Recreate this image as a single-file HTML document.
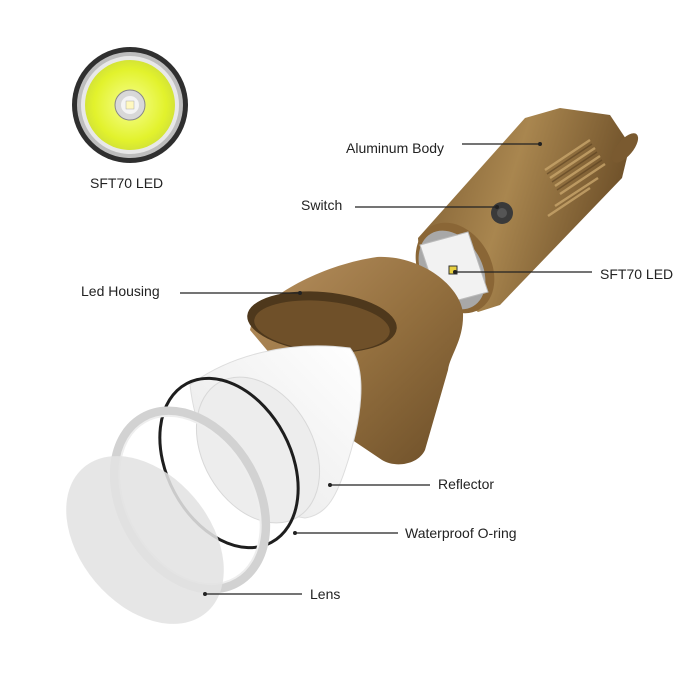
<!DOCTYPE html>
<html><head><meta charset="utf-8"><style>
html,body{margin:0;padding:0;background:#fff}
svg{display:block}
text{font-family:"Liberation Sans",sans-serif;font-size:14px;fill:#222}
</style></head><body>
<svg width="700" height="700" viewBox="0 0 700 700" xmlns="http://www.w3.org/2000/svg">
<defs>
<linearGradient id="br" x1="0" y1="0" x2="1" y2="1">
<stop offset="0" stop-color="#b89160"/><stop offset="0.5" stop-color="#94703f"/><stop offset="1" stop-color="#6c4e28"/>
</linearGradient>
<linearGradient id="br2" x1="0" y1="0" x2="1" y2="0.3">
<stop offset="0" stop-color="#7a5a30"/><stop offset="0.5" stop-color="#a9864f"/><stop offset="1" stop-color="#6e5029"/>
</linearGradient>
<radialGradient id="led" cx="0.5" cy="0.5" r="0.5">
<stop offset="0" stop-color="#f6ff90"/><stop offset="0.8" stop-color="#e2f22c"/><stop offset="1" stop-color="#d4e436"/>
</radialGradient>
<linearGradient id="refl" x1="1" y1="0" x2="0" y2="1">
<stop offset="0" stop-color="#ffffff"/><stop offset="1" stop-color="#e6e6e6"/>
</linearGradient>
</defs>

<!-- top-left LED -->
<circle cx="130" cy="105" r="58" fill="#2f2f2f"/>
<circle cx="130" cy="105" r="53" fill="#bdbdbd"/>
<circle cx="130" cy="105" r="49" fill="#e8e8e8"/>
<circle cx="130" cy="105" r="45" fill="url(#led)"/>
<circle cx="130" cy="105" r="15" fill="#d8d8d8" stroke="#888"/>
<circle cx="130" cy="105" r="9" fill="#f4f4f4"/>
<rect x="126" y="101" width="8" height="8" fill="#fff8c0" stroke="#aaa" stroke-width="0.5"/>
<text x="90" y="188">SFT70 LED</text>

<!-- body tube -->
<polygon points="525,118 560,108 610,115 630,145 622,178 500,305 478,312 420,272 418,238" fill="url(#br2)"/>
<ellipse cx="625" cy="148" rx="8" ry="18" transform="rotate(40 625 148)" fill="#7a5a30"/>
<g stroke="#c9a66c" stroke-width="2.5" opacity="0.8">
<line x1="545" y1="170" x2="590" y2="140"/><line x1="550" y1="178" x2="595" y2="148"/>
<line x1="555" y1="186" x2="600" y2="156"/><line x1="560" y1="194" x2="605" y2="164"/>
<line x1="555" y1="206" x2="598" y2="178"/><line x1="548" y1="216" x2="590" y2="188"/>
</g>
<g stroke="#5a4020" stroke-width="1.5" opacity="0.6">
<line x1="547" y1="174" x2="592" y2="144"/><line x1="552" y1="182" x2="597" y2="152"/>
<line x1="557" y1="190" x2="602" y2="160"/>
</g>
<!-- head front -->
<ellipse cx="455" cy="268" rx="36" ry="48" transform="rotate(-30 455 268)" fill="#8a6636"/>
<ellipse cx="452" cy="270" rx="30" ry="42" transform="rotate(-30 452 270)" fill="#a8a8a8"/>
<polygon points="420,245 468,232 488,292 440,305" fill="#f2f2f2" stroke="#bbb"/>
<rect x="449" y="266" width="8" height="8" fill="#e8d040" stroke="#333" stroke-width="1"/>
<circle cx="502" cy="213" r="11" fill="#3a3a3a"/>
<circle cx="502" cy="213" r="5" fill="#555"/>

<!-- led housing -->
<path d="M250,330 C255,300 320,265 377,257 C420,255 460,285 463,313 C464,340 450,355 448,370 L425,450 C418,465 395,468 382,460 L330,425 Z" fill="url(#br)"/>
<ellipse cx="322" cy="322" rx="75" ry="30" transform="rotate(5 322 322)" fill="#4e381c"/>
<ellipse cx="322" cy="326" rx="68" ry="25" transform="rotate(5 322 326)" fill="#6f5029"/>

<!-- reflector -->
<path d="M190,385 C230,355 290,340 350,348 C368,370 362,420 345,470 C335,500 325,515 305,518 C250,510 200,470 190,385 Z" fill="url(#refl)" stroke="#ddd"/>
<ellipse cx="258" cy="450" rx="55" ry="78" transform="rotate(-30 258 450)" fill="#ededed" stroke="#d8d8d8"/>

<!-- o-ring -->
<ellipse cx="229" cy="463" rx="62" ry="90" transform="rotate(-28 229 463)" fill="none" stroke="#1e1e1e" stroke-width="3"/>

<!-- lens ring -->
<ellipse cx="190" cy="500" rx="68" ry="95" transform="rotate(-30 190 500)" fill="none" stroke="#d2d2d2" stroke-width="9"/>
<ellipse cx="190" cy="500" rx="63" ry="90" transform="rotate(-30 190 500)" fill="none" stroke="#eee" stroke-width="2"/>
<!-- lens -->
<ellipse cx="145" cy="540" rx="95" ry="65" transform="rotate(50 145 540)" fill="#e2e2e2" opacity="0.88"/>

<!-- leader lines -->
<g stroke="#222" stroke-width="1.2">
<line x1="462" y1="144" x2="540" y2="144"/>
<line x1="355" y1="207" x2="497" y2="207"/>
<line x1="455" y1="272" x2="592" y2="272"/>
<line x1="180" y1="293" x2="300" y2="293"/>
<line x1="330" y1="485" x2="430" y2="485"/>
<line x1="295" y1="533" x2="398" y2="533"/>
<line x1="205" y1="594" x2="302" y2="594"/>
</g>
<g fill="#222">
<circle cx="540" cy="144" r="2"/><circle cx="497" cy="207" r="2"/><circle cx="455" cy="272" r="2"/>
<circle cx="300" cy="293" r="2"/><circle cx="330" cy="485" r="2"/><circle cx="295" cy="533" r="2"/><circle cx="205" cy="594" r="2"/>
</g>

<text x="346" y="153">Aluminum Body</text>
<text x="301" y="210">Switch</text>
<text x="600" y="279">SFT70 LED</text>
<text x="81" y="296">Led Housing</text>
<text x="438" y="489">Reflector</text>
<text x="405" y="538">Waterproof O-ring</text>
<text x="310" y="599">Lens</text>
</svg>
</body></html>
